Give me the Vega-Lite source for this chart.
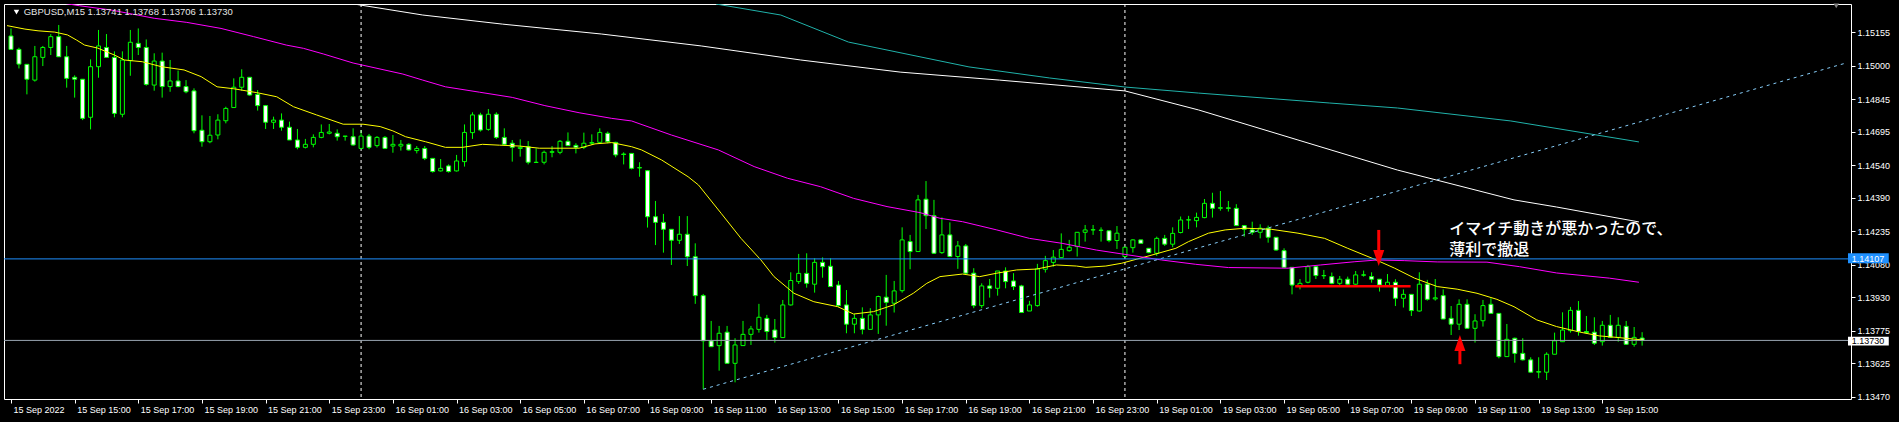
{
"$schema": "https://vega.github.io/schema/vega-lite/v6.json",
"width": 1847, "height": 395,
"autosize": {"type": "none"},
"padding": {"left": 4, "top": 4, "right": 48, "bottom": 23},
"background": "#000000",
"config": {"view": {"stroke": "#ffffff", "strokeWidth": 1, "fill": "#000000"}, "font": "Liberation Sans",
"axis": {"labelOverlap": false, "labelSeparation": 0}},
"datasets": {
"candles": [
{"i":0,"o":1.15138,"h":1.15173,"l":1.15073,"c":1.15076},
{"i":1,"o":1.15076,"h":1.15084,"l":1.14988,"c":1.15008},
{"i":2,"o":1.15007,"h":1.15007,"l":1.14868,"c":1.14938},
{"i":3,"o":1.14934,"h":1.15092,"l":1.14927,"c":1.15042},
{"i":4,"o":1.15039,"h":1.15092,"l":1.14999,"c":1.15085},
{"i":5,"o":1.15085,"h":1.15147,"l":1.15050,"c":1.15135},
{"i":6,"o":1.15135,"h":1.15189,"l":1.15042,"c":1.15042},
{"i":7,"o":1.15042,"h":1.15092,"l":1.14899,"c":1.14942},
{"i":8,"o":1.14947,"h":1.14956,"l":1.14853,"c":1.14938},
{"i":9,"o":1.14938,"h":1.14938,"l":1.14749,"c":1.14757},
{"i":10,"o":1.14762,"h":1.15030,"l":1.14706,"c":1.14996},
{"i":11,"o":1.14996,"h":1.15166,"l":1.14945,"c":1.15092},
{"i":12,"o":1.15085,"h":1.15147,"l":1.15039,"c":1.15039},
{"i":13,"o":1.15039,"h":1.15067,"l":1.14762,"c":1.14780},
{"i":14,"o":1.14776,"h":1.15067,"l":1.14762,"c":1.15027},
{"i":15,"o":1.15024,"h":1.15166,"l":1.14954,"c":1.15109},
{"i":16,"o":1.15104,"h":1.15173,"l":1.15050,"c":1.15085},
{"i":17,"o":1.15085,"h":1.15122,"l":1.14908,"c":1.14914},
{"i":18,"o":1.14911,"h":1.15058,"l":1.14885,"c":1.15022},
{"i":19,"o":1.15022,"h":1.15061,"l":1.14853,"c":1.14904},
{"i":20,"o":1.14904,"h":1.15027,"l":1.14880,"c":1.14930},
{"i":21,"o":1.14930,"h":1.14978,"l":1.14901,"c":1.14904},
{"i":22,"o":1.14904,"h":1.14934,"l":1.14873,"c":1.14880},
{"i":23,"o":1.14884,"h":1.14896,"l":1.14688,"c":1.14700},
{"i":24,"o":1.14702,"h":1.14771,"l":1.14626,"c":1.14649},
{"i":25,"o":1.14649,"h":1.14768,"l":1.14642,"c":1.14679},
{"i":26,"o":1.14680,"h":1.14776,"l":1.14660,"c":1.14749},
{"i":27,"o":1.14746,"h":1.14811,"l":1.14734,"c":1.14803},
{"i":28,"o":1.14807,"h":1.14942,"l":1.14807,"c":1.14901},
{"i":29,"o":1.14901,"h":1.14984,"l":1.14885,"c":1.14947},
{"i":30,"o":1.14947,"h":1.14947,"l":1.14862,"c":1.14865},
{"i":31,"o":1.14868,"h":1.14888,"l":1.14793,"c":1.14816},
{"i":32,"o":1.14816,"h":1.14819,"l":1.14708,"c":1.14739},
{"i":33,"o":1.14739,"h":1.14765,"l":1.14708,"c":1.14749},
{"i":34,"o":1.14749,"h":1.14780,"l":1.14700,"c":1.14716},
{"i":35,"o":1.14716,"h":1.14742,"l":1.14657,"c":1.14657},
{"i":36,"o":1.14657,"h":1.14708,"l":1.14614,"c":1.14623},
{"i":37,"o":1.14623,"h":1.14662,"l":1.14618,"c":1.14637},
{"i":38,"o":1.14637,"h":1.14683,"l":1.14623,"c":1.14669},
{"i":39,"o":1.14669,"h":1.14729,"l":1.14665,"c":1.14692},
{"i":40,"o":1.14688,"h":1.14731,"l":1.14683,"c":1.14694},
{"i":41,"o":1.14688,"h":1.14706,"l":1.14654,"c":1.14672},
{"i":42,"o":1.14675,"h":1.14675,"l":1.14654,"c":1.14674},
{"i":43,"o":1.14672,"h":1.14711,"l":1.14631,"c":1.14634},
{"i":44,"o":1.14618,"h":1.14703,"l":1.14615,"c":1.14675},
{"i":45,"o":1.14675,"h":1.14685,"l":1.14614,"c":1.14623},
{"i":46,"o":1.14631,"h":1.14675,"l":1.14622,"c":1.14669},
{"i":47,"o":1.14669,"h":1.14675,"l":1.14615,"c":1.14618},
{"i":48,"o":1.14629,"h":1.14680,"l":1.14598,"c":1.14637},
{"i":49,"o":1.14629,"h":1.14657,"l":1.14608,"c":1.14637},
{"i":50,"o":1.14637,"h":1.14642,"l":1.14608,"c":1.14611},
{"i":51,"o":1.14608,"h":1.14629,"l":1.14595,"c":1.14618},
{"i":52,"o":1.14618,"h":1.14629,"l":1.14564,"c":1.14572},
{"i":53,"o":1.14572,"h":1.14572,"l":1.14506,"c":1.14511},
{"i":54,"o":1.14514,"h":1.14569,"l":1.14511,"c":1.14526},
{"i":55,"o":1.14537,"h":1.14544,"l":1.14506,"c":1.14511},
{"i":56,"o":1.14514,"h":1.14588,"l":1.14511,"c":1.14560},
{"i":57,"o":1.14557,"h":1.14729,"l":1.14534,"c":1.14692},
{"i":58,"o":1.14691,"h":1.14785,"l":1.14662,"c":1.14773},
{"i":59,"o":1.14773,"h":1.14783,"l":1.14696,"c":1.14703},
{"i":60,"o":1.14706,"h":1.14800,"l":1.14700,"c":1.14776},
{"i":61,"o":1.14776,"h":1.14785,"l":1.14662,"c":1.14669},
{"i":62,"o":1.14669,"h":1.14711,"l":1.14631,"c":1.14637},
{"i":63,"o":1.14642,"h":1.14657,"l":1.14557,"c":1.14623},
{"i":64,"o":1.14618,"h":1.14660,"l":1.14580,"c":1.14623},
{"i":65,"o":1.14626,"h":1.14652,"l":1.14544,"c":1.14554},
{"i":66,"o":1.14554,"h":1.14618,"l":1.14552,"c":1.14553},
{"i":67,"o":1.14554,"h":1.14608,"l":1.14544,"c":1.14600},
{"i":68,"o":1.14600,"h":1.14629,"l":1.14577,"c":1.14603},
{"i":69,"o":1.14600,"h":1.14657,"l":1.14591,"c":1.14651},
{"i":70,"o":1.14651,"h":1.14692,"l":1.14631,"c":1.14631},
{"i":71,"o":1.14632,"h":1.14642,"l":1.14595,"c":1.14623},
{"i":72,"o":1.14623,"h":1.14691,"l":1.14615,"c":1.14642},
{"i":73,"o":1.14642,"h":1.14683,"l":1.14634,"c":1.14645},
{"i":74,"o":1.14646,"h":1.14711,"l":1.14642,"c":1.14692},
{"i":75,"o":1.14688,"h":1.14696,"l":1.14642,"c":1.14649},
{"i":76,"o":1.14646,"h":1.14649,"l":1.14577,"c":1.14588},
{"i":77,"o":1.14592,"h":1.14600,"l":1.14544,"c":1.14590},
{"i":78,"o":1.14595,"h":1.14595,"l":1.14521,"c":1.14526},
{"i":79,"o":1.14529,"h":1.14554,"l":1.14487,"c":1.14528},
{"i":80,"o":1.14515,"h":1.14518,"l":1.14252,"c":1.14302},
{"i":81,"o":1.14302,"h":1.14375,"l":1.14171,"c":1.14276},
{"i":82,"o":1.14276,"h":1.14315,"l":1.14136,"c":1.14244},
{"i":83,"o":1.14244,"h":1.14244,"l":1.14079,"c":1.14193},
{"i":84,"o":1.14193,"h":1.14305,"l":1.14176,"c":1.14221},
{"i":85,"o":1.14221,"h":1.14305,"l":1.14074,"c":1.14117},
{"i":86,"o":1.14117,"h":1.14179,"l":1.13899,"c":1.13937},
{"i":87,"o":1.13937,"h":1.13945,"l":1.13504,"c":1.13728},
{"i":88,"o":1.13728,"h":1.13820,"l":1.13701,"c":1.13701},
{"i":89,"o":1.13706,"h":1.13797,"l":1.13590,"c":1.13763},
{"i":90,"o":1.13768,"h":1.13797,"l":1.13624,"c":1.13624},
{"i":91,"o":1.13624,"h":1.13740,"l":1.13536,"c":1.13709},
{"i":92,"o":1.13706,"h":1.13820,"l":1.13706,"c":1.13758},
{"i":93,"o":1.13758,"h":1.13797,"l":1.13709,"c":1.13783},
{"i":94,"o":1.13781,"h":1.13899,"l":1.13766,"c":1.13837},
{"i":95,"o":1.13832,"h":1.13848,"l":1.13732,"c":1.13771},
{"i":96,"o":1.13778,"h":1.13829,"l":1.13720,"c":1.13743},
{"i":97,"o":1.13743,"h":1.13917,"l":1.13743,"c":1.13894},
{"i":98,"o":1.13894,"h":1.14045,"l":1.13891,"c":1.14007},
{"i":99,"o":1.14002,"h":1.14130,"l":1.13991,"c":1.14040},
{"i":100,"o":1.14040,"h":1.14133,"l":1.13974,"c":1.13994},
{"i":101,"o":1.13990,"h":1.14110,"l":1.13951,"c":1.14091},
{"i":102,"o":1.14091,"h":1.14114,"l":1.14020,"c":1.14071},
{"i":103,"o":1.14073,"h":1.14110,"l":1.13979,"c":1.13979},
{"i":104,"o":1.13986,"h":1.14005,"l":1.13886,"c":1.13891},
{"i":105,"o":1.13894,"h":1.13963,"l":1.13763,"c":1.13805},
{"i":106,"o":1.13805,"h":1.13852,"l":1.13763,"c":1.13832},
{"i":107,"o":1.13832,"h":1.13883,"l":1.13758,"c":1.13781},
{"i":108,"o":1.13781,"h":1.13879,"l":1.13781,"c":1.13848},
{"i":109,"o":1.13848,"h":1.13937,"l":1.13760,"c":1.13933},
{"i":110,"o":1.13930,"h":1.14033,"l":1.13798,"c":1.13906},
{"i":111,"o":1.13902,"h":1.14005,"l":1.13859,"c":1.13959},
{"i":112,"o":1.13960,"h":1.14253,"l":1.13951,"c":1.14195},
{"i":113,"o":1.14187,"h":1.14218,"l":1.14059,"c":1.14141},
{"i":114,"o":1.14141,"h":1.14403,"l":1.14141,"c":1.14380},
{"i":115,"o":1.14383,"h":1.14467,"l":1.14245,"c":1.14307},
{"i":116,"o":1.14307,"h":1.14380,"l":1.14130,"c":1.14133},
{"i":117,"o":1.14136,"h":1.14299,"l":1.14130,"c":1.14218},
{"i":118,"o":1.14218,"h":1.14276,"l":1.14115,"c":1.14118},
{"i":119,"o":1.14118,"h":1.14190,"l":1.14061,"c":1.14167},
{"i":120,"o":1.14167,"h":1.14176,"l":1.14037,"c":1.14041},
{"i":121,"o":1.14041,"h":1.14064,"l":1.13879,"c":1.13891},
{"i":122,"o":1.13891,"h":1.13994,"l":1.13879,"c":1.13982},
{"i":123,"o":1.13982,"h":1.14014,"l":1.13928,"c":1.13971},
{"i":124,"o":1.13971,"h":1.14051,"l":1.13937,"c":1.14051},
{"i":125,"o":1.14051,"h":1.14068,"l":1.13971,"c":1.14002},
{"i":126,"o":1.14005,"h":1.14041,"l":1.13963,"c":1.13979},
{"i":127,"o":1.13982,"h":1.13987,"l":1.13859,"c":1.13859},
{"i":128,"o":1.13866,"h":1.13913,"l":1.13866,"c":1.13894},
{"i":129,"o":1.13891,"h":1.14084,"l":1.13886,"c":1.14061},
{"i":130,"o":1.14059,"h":1.14121,"l":1.14044,"c":1.14099},
{"i":131,"o":1.14091,"h":1.14148,"l":1.14071,"c":1.14115},
{"i":132,"o":1.14113,"h":1.14225,"l":1.14113,"c":1.14151},
{"i":133,"o":1.14145,"h":1.14195,"l":1.14141,"c":1.14161},
{"i":134,"o":1.14164,"h":1.14230,"l":1.14118,"c":1.14230},
{"i":135,"o":1.14230,"h":1.14264,"l":1.14187,"c":1.14241},
{"i":136,"o":1.14241,"h":1.14264,"l":1.14218,"c":1.14242},
{"i":137,"o":1.14240,"h":1.14253,"l":1.14187,"c":1.14239},
{"i":138,"o":1.14237,"h":1.14237,"l":1.14184,"c":1.14192},
{"i":139,"o":1.14192,"h":1.14259,"l":1.14153,"c":1.14226},
{"i":140,"o":1.14118,"h":1.14161,"l":1.14115,"c":1.14161},
{"i":141,"o":1.14159,"h":1.14198,"l":1.14136,"c":1.14195},
{"i":142,"o":1.14195,"h":1.14195,"l":1.14179,"c":1.14179},
{"i":143,"o":1.14156,"h":1.14156,"l":1.14133,"c":1.14136},
{"i":144,"o":1.14133,"h":1.14210,"l":1.14121,"c":1.14202},
{"i":145,"o":1.14202,"h":1.14218,"l":1.14167,"c":1.14175},
{"i":146,"o":1.14175,"h":1.14253,"l":1.14161,"c":1.14225},
{"i":147,"o":1.14229,"h":1.14303,"l":1.14225,"c":1.14287},
{"i":148,"o":1.14287,"h":1.14306,"l":1.14245,"c":1.14288},
{"i":149,"o":1.14284,"h":1.14321,"l":1.14253,"c":1.14299},
{"i":150,"o":1.14298,"h":1.14384,"l":1.14295,"c":1.14364},
{"i":151,"o":1.14364,"h":1.14413,"l":1.14298,"c":1.14341},
{"i":152,"o":1.14341,"h":1.14421,"l":1.14330,"c":1.14344},
{"i":153,"o":1.14343,"h":1.14375,"l":1.14326,"c":1.14341},
{"i":154,"o":1.14341,"h":1.14360,"l":1.14261,"c":1.14261},
{"i":155,"o":1.14261,"h":1.14264,"l":1.14210,"c":1.14244},
{"i":156,"o":1.14241,"h":1.14279,"l":1.14218,"c":1.14230},
{"i":157,"o":1.14230,"h":1.14267,"l":1.14202,"c":1.14249},
{"i":158,"o":1.14249,"h":1.14261,"l":1.14182,"c":1.14207},
{"i":159,"o":1.14207,"h":1.14207,"l":1.14145,"c":1.14148},
{"i":160,"o":1.14145,"h":1.14156,"l":1.14064,"c":1.14068},
{"i":161,"o":1.14068,"h":1.14068,"l":1.13943,"c":1.13986},
{"i":162,"o":1.13983,"h":1.14014,"l":1.13966,"c":1.13994},
{"i":163,"o":1.13999,"h":1.14079,"l":1.13994,"c":1.14071},
{"i":164,"o":1.14071,"h":1.14076,"l":1.14014,"c":1.14030},
{"i":165,"o":1.14029,"h":1.14056,"l":1.14014,"c":1.14030},
{"i":166,"o":1.14025,"h":1.14044,"l":1.13990,"c":1.13994},
{"i":167,"o":1.13994,"h":1.14028,"l":1.13983,"c":1.14013},
{"i":168,"o":1.14013,"h":1.14025,"l":1.13987,"c":1.13990},
{"i":169,"o":1.13990,"h":1.14051,"l":1.13987,"c":1.14033},
{"i":170,"o":1.14033,"h":1.14053,"l":1.14025,"c":1.14032},
{"i":171,"o":1.14025,"h":1.14045,"l":1.13997,"c":1.14013},
{"i":172,"o":1.14013,"h":1.14013,"l":1.13956,"c":1.13986},
{"i":173,"o":1.13982,"h":1.14037,"l":1.13982,"c":1.13999},
{"i":174,"o":1.13999,"h":1.14013,"l":1.13889,"c":1.13925},
{"i":175,"o":1.13925,"h":1.13966,"l":1.13882,"c":1.13943},
{"i":176,"o":1.13943,"h":1.13943,"l":1.13843,"c":1.13868},
{"i":177,"o":1.13866,"h":1.14045,"l":1.13863,"c":1.13990},
{"i":178,"o":1.13990,"h":1.14010,"l":1.13914,"c":1.13920},
{"i":179,"o":1.13922,"h":1.14014,"l":1.13914,"c":1.13927},
{"i":180,"o":1.13937,"h":1.13966,"l":1.13828,"c":1.13829},
{"i":181,"o":1.13832,"h":1.13889,"l":1.13755,"c":1.13805},
{"i":182,"o":1.13805,"h":1.13920,"l":1.13778,"c":1.13897},
{"i":183,"o":1.13897,"h":1.13920,"l":1.13783,"c":1.13786},
{"i":184,"o":1.13786,"h":1.13851,"l":1.13720,"c":1.13820},
{"i":185,"o":1.13821,"h":1.13917,"l":1.13794,"c":1.13891},
{"i":186,"o":1.13897,"h":1.13925,"l":1.13855,"c":1.13855},
{"i":187,"o":1.13855,"h":1.13855,"l":1.13647,"c":1.13655},
{"i":188,"o":1.13655,"h":1.13806,"l":1.13655,"c":1.13735},
{"i":189,"o":1.13740,"h":1.13743,"l":1.13627,"c":1.13670},
{"i":190,"o":1.13670,"h":1.13740,"l":1.13637,"c":1.13640},
{"i":191,"o":1.13640,"h":1.13652,"l":1.13581,"c":1.13583},
{"i":192,"o":1.13583,"h":1.13652,"l":1.13555,"c":1.13586},
{"i":193,"o":1.13583,"h":1.13675,"l":1.13547,"c":1.13666},
{"i":194,"o":1.13666,"h":1.13766,"l":1.13666,"c":1.13728},
{"i":195,"o":1.13724,"h":1.13860,"l":1.13724,"c":1.13778},
{"i":196,"o":1.13775,"h":1.13885,"l":1.13766,"c":1.13869},
{"i":197,"o":1.13869,"h":1.13912,"l":1.13752,"c":1.13771},
{"i":198,"o":1.13771,"h":1.13843,"l":1.13761,"c":1.13766},
{"i":199,"o":1.13768,"h":1.13837,"l":1.13709,"c":1.13717},
{"i":200,"o":1.13724,"h":1.13820,"l":1.13706,"c":1.13800},
{"i":201,"o":1.13800,"h":1.13848,"l":1.13743,"c":1.13744},
{"i":202,"o":1.13744,"h":1.13837,"l":1.13724,"c":1.13800},
{"i":203,"o":1.13795,"h":1.13820,"l":1.13709,"c":1.13712},
{"i":204,"o":1.13712,"h":1.13792,"l":1.13701,"c":1.13744},
{"i":205,"o":1.13741,"h":1.13768,"l":1.13706,"c":1.13730}
],
"ma": [
{"s":"fast","i":-0.5,"p":1.15186},{"s":"fast","i":1.75,"p":1.15170},{"s":"fast","i":3.4,"p":1.15162},{"s":"fast","i":5.5,"p":1.15156},{"s":"fast","i":7.1,"p":1.15143},{"s":"fast","i":8.25,"p":1.15119},{"s":"fast","i":9.25,"p":1.15096},{"s":"fast","i":10.9,"p":1.15082},{"s":"fast","i":13,"p":1.15050},{"s":"fast","i":14.25,"p":1.15027},{"s":"fast","i":16.5,"p":1.15019},{"s":"fast","i":18.9,"p":1.14996},{"s":"fast","i":21.75,"p":1.14981},{"s":"fast","i":23.9,"p":1.14950},{"s":"fast","i":25.9,"p":1.14903},{"s":"fast","i":28,"p":1.14894},{"s":"fast","i":30.9,"p":1.14876},{"s":"fast","i":33.4,"p":1.14857},{"s":"fast","i":35.5,"p":1.14811},{"s":"fast","i":38.4,"p":1.14773},{"s":"fast","i":41.75,"p":1.14730},{"s":"fast","i":44.25,"p":1.14730},{"s":"fast","i":46.4,"p":1.14719},{"s":"fast","i":48,"p":1.14699},{"s":"fast","i":49.6,"p":1.14672},{"s":"fast","i":52.1,"p":1.14649},{"s":"fast","i":54.6,"p":1.14623},{"s":"fast","i":56.75,"p":1.14623},{"s":"fast","i":59.25,"p":1.14637},{"s":"fast","i":61.4,"p":1.14633},{"s":"fast","i":63.9,"p":1.14629},{"s":"fast","i":66.4,"p":1.14619},{"s":"fast","i":71.4,"p":1.14619},{"s":"fast","i":73.4,"p":1.14639},{"s":"fast","i":75.5,"p":1.14645},{"s":"fast","i":78,"p":1.14626},{"s":"fast","i":79.25,"p":1.14611},{"s":"fast","i":81.75,"p":1.14565},{"s":"fast","i":85.1,"p":1.14487},{"s":"fast","i":86.4,"p":1.14449},{"s":"fast","i":89.25,"p":1.14318},{"s":"fast","i":91.75,"p":1.14202},{"s":"fast","i":94.25,"p":1.14102},{"s":"fast","i":95.9,"p":1.14025},{"s":"fast","i":98.4,"p":1.13948},{"s":"fast","i":100.9,"p":1.13909},{"s":"fast","i":103.9,"p":1.13886},{"s":"fast","i":105.9,"p":1.13852},{"s":"fast","i":108.4,"p":1.13863},{"s":"fast","i":110.9,"p":1.13894},{"s":"fast","i":113.4,"p":1.13948},{"s":"fast","i":115.1,"p":1.13994},{"s":"fast","i":116.75,"p":1.14025},{"s":"fast","i":119.6,"p":1.14037},{"s":"fast","i":121.75,"p":1.14025},{"s":"fast","i":123.9,"p":1.14041},{"s":"fast","i":126.4,"p":1.14056},{"s":"fast","i":128.9,"p":1.14060},{"s":"fast","i":131.4,"p":1.14079},{"s":"fast","i":133.9,"p":1.14074},{"s":"fast","i":135.1,"p":1.14068},{"s":"fast","i":137.6,"p":1.14074},{"s":"fast","i":139.6,"p":1.14087},{"s":"fast","i":141.4,"p":1.14105},{"s":"fast","i":143.9,"p":1.14130},{"s":"fast","i":146.4,"p":1.14156},{"s":"fast","i":148,"p":1.14187},{"s":"fast","i":150.5,"p":1.14226},{"s":"fast","i":152.6,"p":1.14241},{"s":"fast","i":155.1,"p":1.14249},{"s":"fast","i":158.4,"p":1.14244},{"s":"fast","i":161.75,"p":1.14226},{"s":"fast","i":165.1,"p":1.14202},{"s":"fast","i":168,"p":1.14156},{"s":"fast","i":171.4,"p":1.14105},{"s":"fast","i":173.9,"p":1.14064},{"s":"fast","i":176.4,"p":1.14018},{"s":"fast","i":179.25,"p":1.13979},{"s":"fast","i":181.75,"p":1.13967},{"s":"fast","i":184.25,"p":1.13948},{"s":"fast","i":186.75,"p":1.13920},{"s":"fast","i":188.9,"p":1.13886},{"s":"fast","i":191.75,"p":1.13825},{"s":"fast","i":194.25,"p":1.13794},{"s":"fast","i":197.1,"p":1.13769},{"s":"fast","i":199.6,"p":1.13751},{"s":"fast","i":202.1,"p":1.13743},{"s":"fast","i":205.1,"p":1.13732},
{"s":"mid","i":4,"p":1.15305},{"s":"mid","i":8.6,"p":1.15278},{"s":"mid","i":12.6,"p":1.15258},{"s":"mid","i":18,"p":1.15220},{"s":"mid","i":22.1,"p":1.15201},{"s":"mid","i":26.4,"p":1.15173},{"s":"mid","i":30.5,"p":1.15135},{"s":"mid","i":34.6,"p":1.15096},{"s":"mid","i":36.75,"p":1.15081},{"s":"mid","i":39.25,"p":1.15055},{"s":"mid","i":43,"p":1.15013},{"s":"mid","i":49.25,"p":1.14962},{"s":"mid","i":51.75,"p":1.14934},{"s":"mid","i":54.6,"p":1.14903},{"s":"mid","i":58.9,"p":1.14878},{"s":"mid","i":63,"p":1.14854},{"s":"mid","i":67.1,"p":1.14816},{"s":"mid","i":71.4,"p":1.14783},{"s":"mid","i":75.5,"p":1.14757},{"s":"mid","i":78,"p":1.14745},{"s":"mid","i":83,"p":1.14680},{"s":"mid","i":88.9,"p":1.14611},{"s":"mid","i":93.4,"p":1.14534},{"s":"mid","i":97.6,"p":1.14480},{"s":"mid","i":101.75,"p":1.14441},{"s":"mid","i":105.9,"p":1.14387},{"s":"mid","i":110.1,"p":1.14349},{"s":"mid","i":114.25,"p":1.14321},{"s":"mid","i":116.75,"p":1.14295},{"s":"mid","i":119.6,"p":1.14279},{"s":"mid","i":123.9,"p":1.14241},{"s":"mid","i":128,"p":1.14202},{"s":"mid","i":132.1,"p":1.14179},{"s":"mid","i":136.4,"p":1.14148},{"s":"mid","i":140.5,"p":1.14125},{"s":"mid","i":144.6,"p":1.14102},{"s":"mid","i":148.9,"p":1.14082},{"s":"mid","i":153,"p":1.14067},{"s":"mid","i":160.5,"p":1.14064},{"s":"mid","i":164.6,"p":1.14079},{"s":"mid","i":168.9,"p":1.14094},{"s":"mid","i":171.75,"p":1.14102},{"s":"mid","i":175.1,"p":1.14099},{"s":"mid","i":179.25,"p":1.14093},{"s":"mid","i":185.5,"p":1.14092},{"s":"mid","i":189.6,"p":1.14071},{"s":"mid","i":194.25,"p":1.14042},{"s":"mid","i":200.9,"p":1.14018},{"s":"mid","i":204.6,"p":1.13999},
{"s":"slow","i":43.1,"p":1.15286},{"s":"slow","i":51.75,"p":1.15235},{"s":"slow","i":61.75,"p":1.15193},{"s":"slow","i":74.25,"p":1.15147},{"s":"slow","i":86.75,"p":1.15092},{"s":"slow","i":99.25,"p":1.15027},{"s":"slow","i":111.75,"p":1.14971},{"s":"slow","i":124.25,"p":1.14934},{"s":"slow","i":140,"p":1.14884},{"s":"slow","i":149.25,"p":1.14796},{"s":"slow","i":161.75,"p":1.14657},{"s":"slow","i":174.25,"p":1.14518},{"s":"slow","i":188.9,"p":1.14380},{"s":"slow","i":194.25,"p":1.14347},{"s":"slow","i":204.6,"p":1.14278},
{"s":"slowest","i":88.6,"p":1.15286},{"s":"slowest","i":96.75,"p":1.15235},{"s":"slowest","i":105.25,"p":1.15110},{"s":"slowest","i":120.4,"p":1.14995},{"s":"slowest","i":130.5,"p":1.14944},{"s":"slowest","i":140,"p":1.14902},{"s":"slowest","i":149.25,"p":1.14874},{"s":"slowest","i":165.75,"p":1.14828},{"s":"slowest","i":174.25,"p":1.14805},{"s":"slowest","i":188.5,"p":1.14745},{"s":"slowest","i":204.6,"p":1.14648}
]
},
"layer": [
{
"data": {"name": "candles"},
"mark": {"type": "rule", "color": "#00ff00", "strokeWidth": 1, "clip": true},
"encoding": {
"x": {"field": "i", "type": "quantitative", "scale": {"domain": [-0.25, 230.625], "nice": false, "zero": false},
"axis": {"orient": "bottom", "values": [0,8,16,24,32,40,48,56,64,72,80,88,96,104,112,120,128,136,144,152,160,168,176,184,192,200], "tickCount": 60,
"labelExpr": "['15 Sep 2022','15 Sep 15:00','15 Sep 17:00','15 Sep 19:00','15 Sep 21:00','15 Sep 23:00','16 Sep 01:00','16 Sep 03:00','16 Sep 05:00','16 Sep 07:00','16 Sep 09:00','16 Sep 11:00','16 Sep 13:00','16 Sep 15:00','16 Sep 17:00','16 Sep 19:00','16 Sep 21:00','16 Sep 23:00','19 Sep 01:00','19 Sep 03:00','19 Sep 05:00','19 Sep 07:00','19 Sep 09:00','19 Sep 11:00','19 Sep 13:00','19 Sep 15:00'][round(datum.value/8)]",
"domain": false, "grid": false, "ticks": true, "tickColor": "#ffffff", "tickSize": 4, "labelColor": "#ffffff", "labelFont": "Liberation Sans", "labelFontSize": 9,
"labelAlign": "left", "labelBaseline": "top", "labelPadding": 2, "labelOffset": 2, "labelOverlap": false, "labelFlush": false, "title": null}},
"y": {"field": "l", "type": "quantitative", "scale": {"domain": [1.13459, 1.15286], "nice": false, "zero": false},
"axis": {"orient": "right", "values": [1.1347,1.13625,1.13775,1.1393,1.1408,1.14235,1.1439,1.1454,1.14695,1.14845,1.15,1.15155], "tickCount": 30,
"format": ".5f", "domain": false, "grid": false, "ticks": true, "tickColor": "#ffffff", "tickSize": 4, "labelColor": "#ffffff", "labelFont": "Liberation Sans", "labelFontSize": 9,
"labelAlign": "left", "labelBaseline": "middle", "labelPadding": 2, "labelOverlap": false, "labelFlush": false, "title": null}},
"y2": {"field": "h"}
}
},
{
"data": {"values": [{"i": 44}, {"i": 140}]},
"mark": {"type": "rule", "color": "#ffffff", "strokeDash": [3, 3], "strokeWidth": 1},
"encoding": {
"x": {"field": "i", "type": "quantitative", "scale": {"domain": [-0.25, 230.625], "nice": false, "zero": false}}
}
},
{
"data": {"name": "candles"},
"mark": {"type": "bar", "width": 4, "stroke": "#00ff00", "strokeWidth": 1, "clip": true},
"encoding": {
"x": {"field": "i", "type": "quantitative", "scale": {"domain": [-0.25, 230.625], "nice": false, "zero": false}},
"y": {"field": "o", "type": "quantitative", "scale": {"domain": [1.13459, 1.15286], "nice": false, "zero": false}},
"y2": {"field": "c"},
"fill": {"condition": {"test": "datum.c < datum.o", "value": "#ffffff"}, "value": "#000000"}
}
},
{
"data": {"name": "ma"},
"mark": {"type": "line", "strokeWidth": 1, "clip": true},
"encoding": {
"x": {"field": "i", "type": "quantitative", "scale": {"domain": [-0.25, 230.625], "nice": false, "zero": false}},
"y": {"field": "p", "type": "quantitative", "scale": {"domain": [1.13459, 1.15286], "nice": false, "zero": false}},
"color": {"field": "s", "type": "nominal", "scale": {"domain": ["fast","mid","slow","slowest"], "range": ["#ffff00","#ff00ff","#ffffff","#20b2aa"]}, "legend": null}
}
},
{
"data": {"values": [{"i": 87, "p": 1.13504}, {"i": 230.625, "p": 1.15013}]},
"mark": {"type": "line", "color": "#87cefa", "strokeWidth": 1, "strokeDash": [3, 4], "clip": true},
"encoding": {
"x": {"field": "i", "type": "quantitative", "scale": {"domain": [-0.25, 230.625], "nice": false, "zero": false}},
"y": {"field": "p", "type": "quantitative", "scale": {"domain": [1.13459, 1.15286], "nice": false, "zero": false}}
}
},
{
"data": {"values": [{"p": 1.14107}]},
"mark": {"type": "rule", "color": "#1e90ff", "strokeWidth": 1},
"encoding": {"y": {"field": "p", "type": "quantitative", "scale": {"domain": [1.13459, 1.15286], "nice": false, "zero": false}}}
},
{
"data": {"values": [{"p": 1.1373}]},
"mark": {"type": "rule", "color": "#98a4b0", "strokeWidth": 1},
"encoding": {"y": {"field": "p", "type": "quantitative", "scale": {"domain": [1.13459, 1.15286], "nice": false, "zero": false}}}
},
{
"data": {"values": [{"i": 161.4, "i2": 175.9, "p": 1.1398}]},
"mark": {"type": "rule", "color": "#ff0000", "strokeWidth": 2.5},
"encoding": {
"x": {"field": "i", "type": "quantitative", "scale": {"domain": [-0.25, 230.625], "nice": false, "zero": false}},
"x2": {"field": "i2"},
"y": {"field": "p", "type": "quantitative", "scale": {"domain": [1.13459, 1.15286], "nice": false, "zero": false}}
}
},
{
"data": {"values": [{"i": 171.9, "p": 1.14241, "p2": 1.14139}, {"i": 182.1, "p": 1.13686, "p2": 1.1362}]},
"mark": {"type": "rule", "color": "#ff0000", "strokeWidth": 3},
"encoding": {
"x": {"field": "i", "type": "quantitative", "scale": {"domain": [-0.25, 230.625], "nice": false, "zero": false}},
"y": {"field": "p", "type": "quantitative", "scale": {"domain": [1.13459, 1.15286], "nice": false, "zero": false}},
"y2": {"field": "p2"}
}
},
{
"data": {"values": [{"i": 171.9, "p": 1.14111}]},
"mark": {"type": "point", "shape": "M -0.69 -1 L 0.69 -1 L 0 1 Z", "size": 256, "filled": true, "color": "#ff0000", "opacity": 1},
"encoding": {
"x": {"field": "i", "type": "quantitative", "scale": {"domain": [-0.25, 230.625], "nice": false, "zero": false}},
"y": {"field": "p", "type": "quantitative", "scale": {"domain": [1.13459, 1.15286], "nice": false, "zero": false}}
}
},
{
"data": {"values": [{"i": 182.1, "p": 1.13718}]},
"mark": {"type": "point", "shape": "M -0.69 1 L 0.69 1 L 0 -1 Z", "size": 256, "filled": true, "color": "#ff0000", "opacity": 1},
"encoding": {
"x": {"field": "i", "type": "quantitative", "scale": {"domain": [-0.25, 230.625], "nice": false, "zero": false}},
"y": {"field": "p", "type": "quantitative", "scale": {"domain": [1.13459, 1.15286], "nice": false, "zero": false}}
}
},
{
"data": {"values": [{"i": 180.75, "p": 1.14244, "t": "イマイチ動きが悪かったので、"}, {"i": 180.75, "p": 1.14146, "t": "薄利で撤退"}]},
"mark": {"type": "text", "font": "Noto Sans CJK JP", "fontSize": 16, "fontWeight": 500, "color": "#ffffff", "align": "left", "baseline": "middle"},
"encoding": {
"x": {"field": "i", "type": "quantitative", "scale": {"domain": [-0.25, 230.625], "nice": false, "zero": false}},
"y": {"field": "p", "type": "quantitative", "scale": {"domain": [1.13459, 1.15286], "nice": false, "zero": false}},
"text": {"field": "t"}
}
},
{
"data": {"values": [{"i": 1.6, "p": 1.15251, "t": "GBPUSD,M15  1.13741 1.13768 1.13706 1.13730"}]},
"mark": {"type": "text", "font": "Liberation Sans", "fontSize": 9.5, "color": "#e6e6e6", "align": "left", "baseline": "middle"},
"encoding": {
"x": {"field": "i", "type": "quantitative", "scale": {"domain": [-0.25, 230.625], "nice": false, "zero": false}},
"y": {"field": "p", "type": "quantitative", "scale": {"domain": [1.13459, 1.15286], "nice": false, "zero": false}},
"text": {"field": "t"}
}
},
{
"data": {"values": [{"i": 0.69, "p": 1.15248}]},
"mark": {"type": "point", "shape": "triangle-down", "filled": true, "size": 30, "color": "#ffffff", "opacity": 1},
"encoding": {
"x": {"field": "i", "type": "quantitative", "scale": {"domain": [-0.25, 230.625], "nice": false, "zero": false}},
"y": {"field": "p", "type": "quantitative", "scale": {"domain": [1.13459, 1.15286], "nice": false, "zero": false}}
}
},
{
"data": {"values": [{"i": 229.4, "p": 1.15277}]},
"mark": {"type": "point", "shape": "triangle-down", "filled": true, "size": 30, "color": "#808080", "opacity": 1},
"encoding": {
"x": {"field": "i", "type": "quantitative", "scale": {"domain": [-0.25, 230.625], "nice": false, "zero": false}},
"y": {"field": "p", "type": "quantitative", "scale": {"domain": [1.13459, 1.15286], "nice": false, "zero": false}}
}
},
{
"data": {"values": [{"i": 230.875, "i2": 236, "p": 1.14133, "p2": 1.14087, "k": "blue"}, {"i": 230.875, "i2": 236, "p": 1.13747, "p2": 1.13706, "k": "white"}]},
"mark": {"type": "rect"},
"encoding": {
"x": {"field": "i", "type": "quantitative", "scale": {"domain": [-0.25, 230.625], "nice": false, "zero": false}},
"x2": {"field": "i2"},
"y": {"field": "p", "type": "quantitative", "scale": {"domain": [1.13459, 1.15286], "nice": false, "zero": false}},
"y2": {"field": "p2"},
"fill": {"field": "k", "type": "nominal", "scale": {"domain": ["blue","white"], "range": ["#1e90ff","#ffffff"]}, "legend": null}
}
},
{
"data": {"values": [{"i": 231.35, "p": 1.14108, "t": "1.14107"}]},
"mark": {"type": "text", "font": "Liberation Sans", "fontSize": 9, "align": "left", "baseline": "middle", "color": "#ffffff"},
"encoding": {
"x": {"field": "i", "type": "quantitative", "scale": {"domain": [-0.25, 230.625], "nice": false, "zero": false}},
"y": {"field": "p", "type": "quantitative", "scale": {"domain": [1.13459, 1.15286], "nice": false, "zero": false}},
"text": {"field": "t"}
}
},
{
"data": {"values": [{"i": 231.35, "p": 1.13727, "t": "1.13730"}]},
"mark": {"type": "text", "font": "Liberation Sans", "fontSize": 9, "align": "left", "baseline": "middle", "color": "#000000"},
"encoding": {
"x": {"field": "i", "type": "quantitative", "scale": {"domain": [-0.25, 230.625], "nice": false, "zero": false}},
"y": {"field": "p", "type": "quantitative", "scale": {"domain": [1.13459, 1.15286], "nice": false, "zero": false}},
"text": {"field": "t"}
}
}
]
}
